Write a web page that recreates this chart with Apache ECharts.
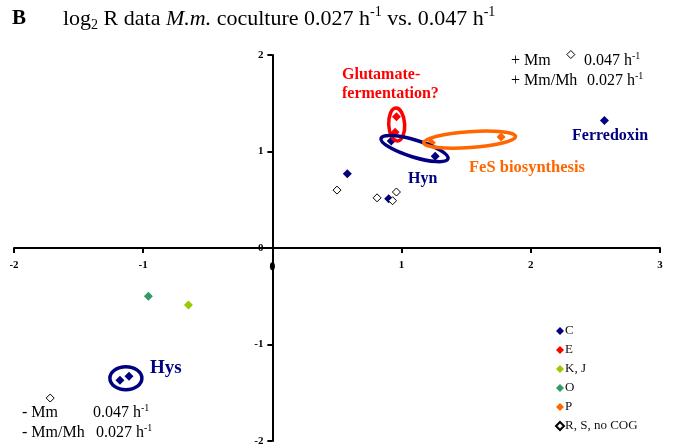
<!DOCTYPE html>
<html>
<head>
<meta charset="utf-8">
<script src="https://cdn.jsdelivr.net/npm/echarts@6/dist/echarts.min.js"></script>
<style>
  html, body { margin: 0; padding: 0; background: #fff; }
  #main { width: 674px; height: 445px; }
</style>
</head>
<body>
<div id="main"></div>
<script>
// log2 R values, x = 0.027 h-1 coculture, y = 0.047 h-1
var cogC = [[0.92, 1.11], [1.26, 0.95], [0.58, 0.77], [0.90, 0.51], [2.57, 1.32], [-1.18, -1.37], [-1.11, -1.33]];
var cogE = [[0.96, 1.36], [0.95, 1.20]];
var cogKJ = [[-0.65, -0.59]];
var cogO = [[-0.96, -0.50]];
var cogP = [[1.23, 1.09], [1.77, 1.15]];
var cogR = [[0.50, 0.60], [0.81, 0.52], [0.96, 0.58], [0.93, 0.49]];
var keyMarks = [[2.31, 2.005], [-1.72, -1.555]];
var axisDot = [[0, -0.19]];

var legendNames = ["C", "E", "K, J", "O", "P", "R, S, no COG"];
var xRange = [-2, 3];
var yRange = [-2, 2];

// circled groups: centre in data units, radii in px, tilt in degrees
var circles = [
  { c: [0.962, 1.279], rx: 8, ry: 16.5, rot: 3, color: "#ff0000" },
  { c: [1.10, 1.03], rx: 35, ry: 8.5, rot: -17, color: "#000080" },
  { c: [1.527, 1.123], rx: 46, ry: 8, rot: 4, color: "#ff6600" },
  { c: [-1.134, -1.349], rx: 16, ry: 11.5, rot: 0, color: "#000080" }
];

var serif = "Liberation Serif";
var gridW = 646, gridH = 386;
var chart = echarts.init(document.getElementById("main"));

function pts(name, data, color, open) {
  return {
    name: name,
    type: "scatter",
    data: data,
    symbol: "diamond",
    symbolSize: open ? 8 : 9,
    clip: false,
    itemStyle: open
      ? { color: "#fff", borderColor: "#000", borderWidth: 1, opacity: 1 }
      : { color: color, opacity: 1 },
    z: 5
  };
}

var option = {
  animation: false,
  grid: { left: 14, top: 55, width: gridW, height: gridH, containLabel: false, outerBoundsMode: "none" },
  legend: {
    data: legendNames,
    orient: "vertical",
    left: 550,
    top: 319,
    itemWidth: 8,
    itemHeight: 8,
    itemGap: 5,
    icon: "diamond",
    textStyle: { fontFamily: serif, fontSize: 13, color: "#111", lineHeight: 14, padding: [0, 0, 0, -4] }
  },
  xAxis: {
    type: "value",
    min: xRange[0],
    max: xRange[1],
    interval: 1,
    position: "bottom",
    // move the axis up to y = 0
    offset: -gridH * (0 - yRange[0]) / (yRange[1] - yRange[0]),
    splitLine: { show: false },
    axisLine: { onZero: false, lineStyle: { color: "#000", width: 2 } },
    axisTick: { length: 5, lineStyle: { color: "#000", width: 2 } },
    axisLabel: {
      margin: 12,
      fontFamily: serif, fontSize: 11, fontWeight: "bold", color: "#000",
      formatter: function (v) { return v === 0 ? "" : String(v); }
    }
  },
  yAxis: {
    type: "value",
    min: yRange[0],
    max: yRange[1],
    interval: 1,
    position: "left",
    // move the axis right to x = 0
    offset: -gridW * (0 - xRange[0]) / (xRange[1] - xRange[0]),
    splitLine: { show: false },
    axisLine: { onZero: false, lineStyle: { color: "#000", width: 2 } },
    axisTick: { length: 5, lineStyle: { color: "#000", width: 2 } },
    axisLabel: { margin: 9, fontFamily: serif, fontSize: 11, fontWeight: "bold", color: "#000" }
  },
  series: [
    pts("C", cogC, "#000080"),
    pts("E", cogE, "#ff0000"),
    pts("K, J", cogKJ, "#99cc00"),
    pts("O", cogO, "#339966"),
    pts("P", cogP, "#ff6600"),
    pts("R, S, no COG", cogR, null, true),
    pts("key", keyMarks, null, true),
    {
      name: "dot", type: "scatter", data: axisDot, symbol: "circle",
      symbolSize: [5, 8], itemStyle: { color: "#000", opacity: 1 }, z: 6
    }
  ]
};
chart.setOption(option);

function txt(x, y, text, size, color, weight, extra) {
  var s = { text: text, x: x, y: y, fill: color || "#000", verticalAlign: "middle",
    font: (weight || "normal") + " " + size + "px '" + serif + "'" };
  if (extra) s.rich = extra;
  return { type: "text", z: 10, style: s };
}

var rateRich = {
  n: { fontFamily: serif, fontSize: 16, lineHeight: 19, fill: "#000" },
  sup: { fontFamily: serif, fontSize: 10, lineHeight: 10, verticalAlign: "top", fill: "#000" }
};
var titleRich = {
  n: { fontFamily: serif, fontSize: 22, lineHeight: 27, fill: "#000" },
  i: { fontFamily: serif, fontSize: 22, lineHeight: 27, fontStyle: "italic", fill: "#000" },
  sub: { fontFamily: serif, fontSize: 14, lineHeight: 14, verticalAlign: "bottom", fill: "#000" },
  sup: { fontFamily: serif, fontSize: 14, lineHeight: 14, verticalAlign: "top", fill: "#000" }
};

var graphics = [
  txt(12, 19, "B", 21, "#000", "bold"),
  txt(63, 19, "{n|log}{sub|2}{n| R data }{i|M.m.}{n| coculture 0.027 h}{sup|-1}{n| vs. 0.047 h}{sup|-1}", 22, "#000", "normal", titleRich),
  txt(342, 75, "Glutamate-", 16, "#ff0000", "bold"),
  txt(342, 94, "fermentation?", 16, "#ff0000", "bold"),
  txt(408, 179, "Hyn", 16, "#000080", "bold"),
  txt(469, 168, "FeS biosynthesis", 16.5, "#ff6600", "bold"),
  txt(572, 136, "Ferredoxin", 16, "#000080", "bold"),
  txt(150, 368, "Hys", 19, "#000080", "bold"),
  txt(511, 61, "+ Mm", 16, "#000"),
  txt(584, 61, "{n|0.047 h}{sup|-1}", 16, "#000", "normal", rateRich),
  txt(511, 81, "+ Mm/Mh", 16, "#000"),
  txt(587, 81, "{n|0.027 h}{sup|-1}", 16, "#000", "normal", rateRich),
  txt(22, 413, "- Mm", 16, "#000"),
  txt(93, 413, "{n|0.047 h}{sup|-1}", 16, "#000", "normal", rateRich),
  txt(22, 433, "- Mm/Mh", 16, "#000"),
  txt(96, 433, "{n|0.027 h}{sup|-1}", 16, "#000", "normal", rateRich)
];

circles.forEach(function (e) {
  var p = chart.convertToPixel({ gridIndex: 0 }, e.c);
  graphics.push({
    type: "ellipse",
    x: p[0], y: p[1],
    rotation: e.rot * Math.PI / 180,
    shape: { cx: 0, cy: 0, rx: e.rx, ry: e.ry },
    style: { fill: "none", stroke: e.color, lineWidth: 3.5 },
    z: 8
  });
});

chart.setOption({ graphic: graphics });
</script>
</body>
</html>
